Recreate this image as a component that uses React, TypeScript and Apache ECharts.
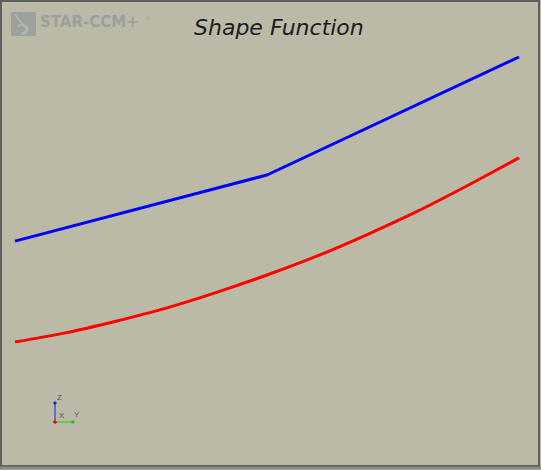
import { useEffect, useRef } from 'react';
import * as echarts from 'echarts';

const title = 'Shape Function';

// x position along the function (0..1), y values on a 0..1 scale
const linearX = [0, 0.5, 1];
const linearY = [0.354, 0.586, 1.0];

const curveX = [0, 0.1, 0.2, 0.3, 0.4, 0.5, 0.6, 0.7, 0.8, 0.9, 1];
const curveY = [0, 0.032, 0.073, 0.119, 0.174, 0.235, 0.302, 0.378, 0.46, 0.551, 0.646];

const triadLabels = ['Z', 'X', 'Y'];

function App() {
  const chartRef = useRef<HTMLDivElement>(null);

  useEffect(() => {
    const myChart = echarts.init(chartRef.current, null, { renderer: 'svg' });

    const option = {
      animation: false,
      backgroundColor: '#babaa7',
      title: {
        text: title,
        left: 189,
        top: 11,
        textStyle: {
          fontFamily: 'DejaVu Sans',
          fontStyle: 'italic',
          fontWeight: 'normal',
          fontSize: 22,
          color: '#1c1c1c',
        },
      },
      grid: {
        left: 15,
        right: 22,
        top: 57,
        bottom: 128,
      },
      xAxis: {
        type: 'value',
        min: 0,
        max: 1,
        show: false,
      },
      yAxis: {
        type: 'value',
        min: 0,
        max: 1,
        show: false,
      },
      series: [
        {
          type: 'line',
          data: linearX.map((x, i) => [x, linearY[i]]),
          showSymbol: false,
          lineStyle: { color: '#0000ff', width: 3 },
        },
        {
          type: 'line',
          data: curveX.map((x, i) => [x, curveY[i]]),
          showSymbol: false,
          smooth: 0.3,
          lineStyle: { color: '#ff0000', width: 3 },
        },
      ],
      graphic: [
        // frame
        {
          type: 'rect',
          shape: { x: 1, y: 1, width: 538, height: 465 },
          style: { fill: 'none', stroke: '#5e5e5e', lineWidth: 2 },
          silent: true,
        },
        {
          type: 'line',
          shape: { x1: 0, y1: 468, x2: 541, y2: 468 },
          style: { stroke: '#8a8a80', lineWidth: 3 },
        },
        // logo
        {
          type: 'rect',
          shape: { x: 11, y: 12, width: 25, height: 24 },
          style: { fill: '#9ea29f' },
        },
        {
          type: 'bezierCurve',
          shape: { x1: 15, y1: 14, x2: 21, y2: 34, cpx1: 20, cpy1: 24, cpx2: 36, cpy2: 34 },
          style: { stroke: '#b4b8ae', lineWidth: 1.5, fill: 'none' },
        },
        {
          type: 'bezierCurve',
          shape: { x1: 18, y1: 26, x2: 21, y2: 34, cpx1: 28, cpy1: 22, cpx2: 32, cpy2: 30 },
          style: { stroke: '#b4b8ae', lineWidth: 1.5, fill: 'none' },
        },
        {
          type: 'text',
          x: 40,
          y: 14,
          style: {
            text: 'STAR-CCM+',
            fontFamily: 'DejaVu Sans',
            fontWeight: 'bold',
            fontSize: 15,
            fill: '#9ca09c',
          },
        },
        {
          type: 'text',
          x: 146,
          y: 15,
          style: { text: '®', fontSize: 5, fill: '#9ea29f' },
        },
        // axis triad
        {
          type: 'line',
          shape: { x1: 55, y1: 422, x2: 55, y2: 403 },
          style: { stroke: '#5050d0', lineWidth: 1.5 },
        },
        {
          type: 'line',
          shape: { x1: 55, y1: 422, x2: 73, y2: 422 },
          style: { stroke: '#40d040', lineWidth: 1.5 },
        },
        { type: 'circle', shape: { cx: 55, cy: 403, r: 1.6 }, style: { fill: '#2020e0' } },
        { type: 'circle', shape: { cx: 73, cy: 422, r: 1.6 }, style: { fill: '#20c020' } },
        { type: 'circle', shape: { cx: 55, cy: 422, r: 1.8 }, style: { fill: '#e01010' } },
        {
          type: 'text',
          x: 57,
          y: 393,
          style: { text: triadLabels[0], fontSize: 8, fill: '#555' },
        },
        {
          type: 'text',
          x: 59,
          y: 411,
          style: { text: triadLabels[1], fontSize: 8, fill: '#555' },
        },
        {
          type: 'text',
          x: 74,
          y: 410,
          style: { text: triadLabels[2], fontSize: 8, fill: '#555' },
        },
      ],
    };

    myChart.setOption(option);

    return () => {
      myChart.dispose();
    };
  }, []);

  return (
    <div
      ref={chartRef}
      style={{ position: 'fixed', left: 0, top: 0, width: '541px', height: '470px' }}
    ></div>
  );
}

export default App;
